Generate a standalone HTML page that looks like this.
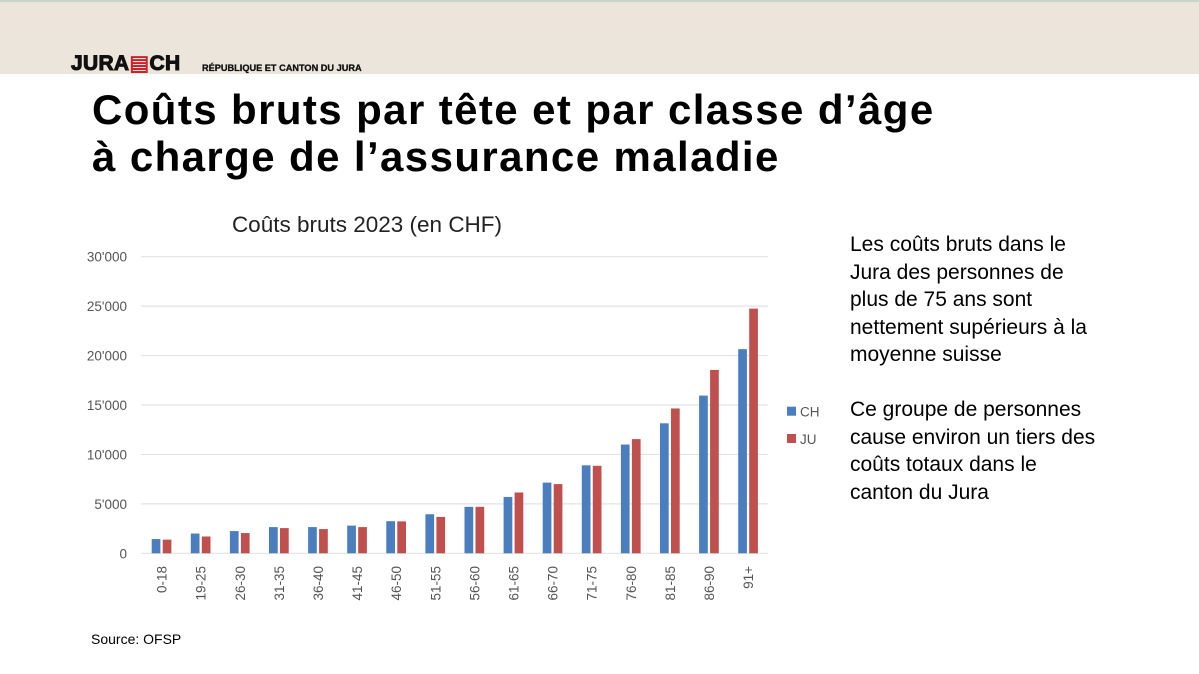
<!DOCTYPE html>
<html><head><meta charset="utf-8"><style>
body{margin:0;width:1199px;height:674px;background:#fff;position:relative;overflow:hidden;font-family:"Liberation Sans",sans-serif}
.hdr{position:absolute;left:0;top:0;width:1199px;height:72px;background:#ece5db;border-top:2px solid #c9d3cc}
.logo{position:absolute;left:71px;top:51px;font-weight:900;font-size:21px;letter-spacing:0.3px;color:#111;-webkit-text-stroke:1px #111}
.sub{position:absolute;left:202px;top:63px;font-weight:bold;font-size:9.2px;color:#111;-webkit-text-stroke:0.3px #111}
h1{position:absolute;left:92px;top:86px;margin:0;font-size:42px;letter-spacing:1.4px;line-height:47px;font-weight:bold;color:#000}
.txt{position:absolute;left:850px;top:231px;font-size:21px;line-height:27.5px;color:#000}
.src{position:absolute;left:91px;top:631px;font-size:14px;color:#000}
</style></head><body>
<div class="hdr"></div>
<div class="logo">JURA<span style="color:#d0202a;-webkit-text-stroke:0">&#9636;</span>CH</div>
<div class="sub">RÉPUBLIQUE ET CANTON DU JURA</div>
<h1>Coûts bruts par tête et par classe d’âge<br>à charge de l’assurance maladie</h1>
<div class="txt">Les coûts bruts dans le<br>Jura des personnes de<br>plus de 75 ans sont<br>nettement supérieurs à la<br>moyenne suisse<br><br>Ce groupe de personnes<br>cause environ un tiers des<br>coûts totaux dans le<br>canton du Jura</div>
<div class="src">Source: OFSP</div>
<svg id="chart" width="1199" height="674" style="position:absolute;left:0;top:0"></svg>
<script>
const categories=["0-18","19-25","26-30","31-35","36-40","41-45","46-50","51-55","56-60","61-65","66-70","71-75","76-80","81-85","86-90","91+"];
const chValues=[1440,2000,2250,2650,2650,2800,3250,3950,4700,5700,7150,8900,11000,13150,15950,20650];
const juValues=[1380,1700,2050,2550,2450,2650,3230,3680,4700,6150,7000,8850,11550,14650,18550,24750];
const yTicks=[0,5000,10000,15000,20000,25000,30000];
const yTickLabels=["0","5'000","10'000","15'000","20'000","25'000","30'000"];
const svg=document.getElementById('chart');
const NS='http://www.w3.org/2000/svg';
const y0=553.3,yTop=256.7,yMax=30000;
const y=v=>y0-(v/yMax)*(y0-yTop);
const x=i=>161.6+i*39.1;
function el(t,a){const e=document.createElementNS(NS,t);for(const k in a)e.setAttribute(k,a[k]);svg.appendChild(e);return e;}
const title=el('text',{x:367,y:232,'text-anchor':'middle','font-size':22.5,fill:'#222','font-family':'Liberation Sans'});
title.textContent='Coûts bruts 2023 (en CHF)';


yTicks.forEach((t,i)=>{
 const g=el('line',{x1:141,x2:768,y1:y(t),y2:y(t),stroke:'#e3e3e3','stroke-width':1.2});
 
 
 const l=el('text',{x:127,y:y(t)+5,'text-anchor':'end','font-size':13.5,fill:'#555'});
 l.textContent=yTickLabels[i];
 
 
});
categories.forEach((c,i)=>{
 const b1=el('rect',{x:x(i)-9.9,y:y(chValues[i]),width:8.7,height:y0-y(chValues[i]),fill:'#4a7ebf'});
 
 
 const b2=el('rect',{x:x(i)+1.1,y:y(juValues[i]),width:8.7,height:y0-y(juValues[i]),fill:'#c0504d'});
 
 
 const t=el('text',{x:0,y:0,'text-anchor':'end','font-size':13.5,fill:'#555',transform:`translate(${x(i)+5},${566}) rotate(-90)`});
 t.textContent=c;
 
 
});
[['CH','#4a7ebf',411.7],['JU','#c0504d',439]].forEach(([n,c,yy])=>{
 const r=el('rect',{x:787,y:yy-5,width:9,height:9,fill:c});
 
 
 const t=el('text',{x:800,y:yy+5,'font-size':13.5,fill:'#555'});
 t.textContent=n;
 
 
});
</script>
</body></html>
